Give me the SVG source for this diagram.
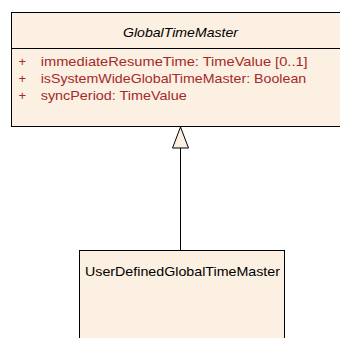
<svg xmlns="http://www.w3.org/2000/svg" width="340" height="338" viewBox="0 0 340 338">
<style>
.box{fill:#fcf0e2;stroke:#000;stroke-width:1}
.t{font-family:"Liberation Sans",Arial,sans-serif;font-size:13px;fill:#000}
.a{font-family:"Liberation Sans",Arial,sans-serif;font-size:13px;fill:#a52a2a}
.c{stroke:#000;stroke-width:1;fill:none}
</style>
<rect width="340" height="338" fill="#fff"/>
<g id="GlobalTimeMaster">
<rect class="box" x="11.5" y="12.5" width="340" height="114"/>
<line class="c" x1="11.5" y1="48.5" x2="340" y2="48.5"/>
<text class="t" x="180.5" y="37" text-anchor="middle" font-style="italic" textLength="115" lengthAdjust="spacingAndGlyphs">GlobalTimeMaster</text>
<text class="a" x="18.5" y="65.5">+</text>
<text class="a" x="18.5" y="83">+</text>
<text class="a" x="18.5" y="100">+</text>
<text class="a" x="40.7" y="65.5" textLength="267" lengthAdjust="spacingAndGlyphs">immediateResumeTime: TimeValue [0..1]</text>
<text class="a" x="40.7" y="83" textLength="265.5" lengthAdjust="spacingAndGlyphs">isSystemWideGlobalTimeMaster: Boolean</text>
<text class="a" x="40.7" y="100" textLength="146" lengthAdjust="spacingAndGlyphs">syncPeriod: TimeValue</text>
</g>
<g id="UserDefinedGlobalTimeMaster">
<rect class="box" x="79.5" y="250.5" width="205" height="100"/>
<text class="t" x="85" y="275.5" textLength="195" lengthAdjust="spacingAndGlyphs">UserDefinedGlobalTimeMaster</text>
</g>
<g id="connectors">
<line class="c" x1="180.5" y1="148" x2="180.5" y2="250.5"/>
<polygon points="180.5,127 188.5,148 172.5,148" fill="#fcf0e2" stroke="#000" stroke-width="1"/>
</g>
</svg>
